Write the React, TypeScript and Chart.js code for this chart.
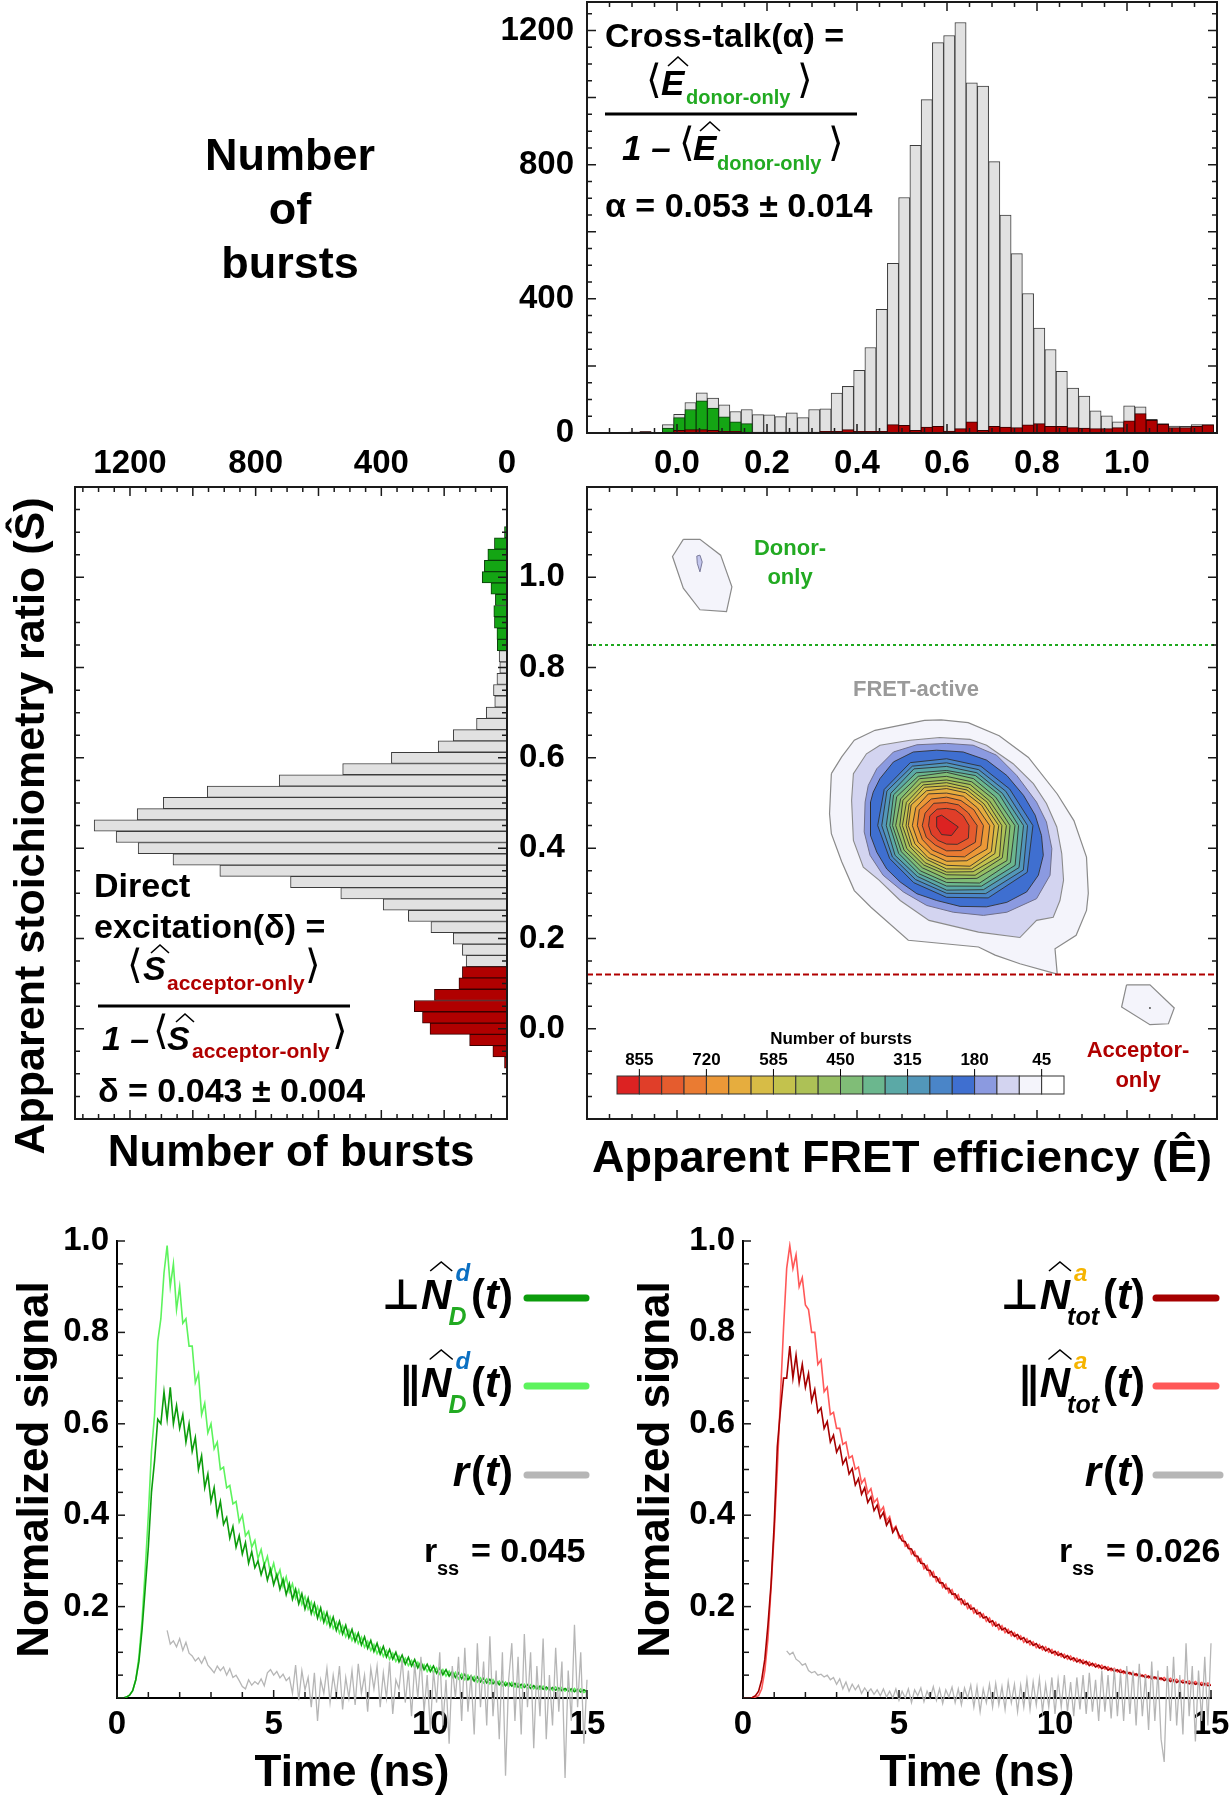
import React, { useEffect, useRef } from "react";
import { Chart, registerables } from "chart.js";

Chart.register(...registerables);

const FONT = '"Liberation Sans", Arial, Helvetica, sans-serif';
const SYM = '"DejaVu Sans", "Liberation Sans", sans-serif';
Chart.defaults.font.family = FONT;
Chart.defaults.color = "#000";

const GREEN_TXT = "#22aa22";
const RED_TXT = "#b00000";

// ---------------- Top: histogram of apparent FRET efficiency (E) ----------------
const E_FIRST_BIN = -0.095;
const E_BIN = 0.025;
const eAllBursts = [3, 4, 0, 25, 56, 91, 120, 104, 84, 64, 70, 55, 54, 49, 60, 46, 70, 72, 119, 139, 187, 255, 369, 506, 702, 858, 994, 1164, 1185, 1224, 1044, 1034, 809, 650, 535, 416, 313, 249, 184, 134, 110, 66, 51, 33, 81, 78, 41, 28, 21, 20, 25, 25];
const eDonorOnly = [0, 0, 0, 15, 46, 70, 96, 74, 48, 33, 28, 0, 0, 0, 0, 0, 0, 0, 0, 0, 0, 0, 0, 0, 0, 0, 0, 0, 0, 0, 0, 0, 0, 0, 0, 0, 0, 0, 0, 0, 0, 0, 0, 0, 0, 0, 0, 0, 0, 0, 0, 0];
const eAcceptorOnly = [3, 4, 0, 3, 8, 10, 10, 8, 5, 5, 3, 3, 3, 3, 3, 3, 3, 5, 5, 10, 5, 5, 5, 25, 23, 8, 18, 20, 6, 13, 33, 8, 20, 18, 16, 24, 28, 20, 20, 16, 15, 13, 13, 16, 36, 58, 38, 26, 16, 16, 20, 24];
const eTickValues = [0, 0.2, 0.4, 0.6, 0.8, 1.0];
const countTickValues = [0, 400, 800, 1200];

// ---------------- Left: histogram of apparent stoichiometry (S) ----------------
const S_FIRST_BIN = -0.075;
const S_BIN = 0.025;
const sAllBursts = [0, 0, 0, 0, 0, 0, 0, 0, 0, 130, 142, 171, 242, 314, 394, 529, 689, 914, 1063, 1174, 1244, 1314, 1177, 1094, 954, 725, 523, 368, 219, 171, 97, 66, 39, 43, 32, 23, 25, 0, 0, 0, 0, 0, 0, 0, 0, 0, 0, 0];
const sAcceptorOnly = [8, 45, 119, 245, 269, 295, 231, 153, 142, 0, 0, 0, 0, 0, 0, 0, 0, 0, 0, 0, 0, 0, 0, 0, 0, 0, 0, 0, 0, 0, 0, 0, 0, 0, 0, 0, 0, 0, 0, 0, 0, 0, 0, 0, 0, 0, 0, 0];
const sDonorOnly = [0, 0, 0, 0, 0, 0, 0, 0, 0, 0, 0, 0, 0, 0, 0, 0, 0, 0, 0, 0, 0, 0, 0, 0, 0, 0, 0, 0, 0, 0, 0, 0, 0, 0, 0, 0, 0, 31, 32, 40, 42, 37, 51, 79, 72, 61, 40, 8];
const sTickValues = [0, 0.2, 0.4, 0.6, 0.8, 1.0];

// ---------------- Center: 2D E-S contour (levels in number of bursts) ----------------
const contourLevels = [45, 90, 135, 180, 225, 270, 315, 360, 405, 450, 495, 540, 585, 630, 675, 720, 765, 810, 855];
const levelColors = ["#f4f4fb", "#d3d4f0", "#8b9ae0", "#3f6fd0", "#4a85c8", "#5297ba", "#5ba9a6", "#6bb78e", "#80bd77", "#96bf62", "#adc156", "#c3c24d", "#d7bc46", "#e6ad3e", "#ec9837", "#ea7b32", "#e55c2e", "#e03e29", "#dc2222"];
const colorbarLabels = [855, 720, 585, 450, 315, 180, 45];
const contour45 = [[0.343, 0.565], [0.366, 0.602], [0.394, 0.639], [0.44, 0.661], [0.495, 0.672], [0.55, 0.683], [0.587, 0.684], [0.647, 0.678], [0.716, 0.649], [0.781, 0.601], [0.845, 0.52], [0.882, 0.461], [0.91, 0.38], [0.914, 0.3], [0.91, 0.262], [0.887, 0.207], [0.84, 0.177], [0.845, 0.121], [0.762, 0.144], [0.707, 0.163], [0.67, 0.181], [0.514, 0.196], [0.431, 0.269], [0.394, 0.306], [0.366, 0.37], [0.343, 0.432], [0.339, 0.476]];
const contour90 = [[0.388, 0.506], [0.392, 0.565], [0.421, 0.609], [0.451, 0.628], [0.518, 0.639], [0.584, 0.645], [0.651, 0.641], [0.688, 0.628], [0.747, 0.587], [0.792, 0.543], [0.821, 0.499], [0.844, 0.447], [0.855, 0.388], [0.859, 0.329], [0.851, 0.284], [0.836, 0.247], [0.799, 0.24], [0.762, 0.202], [0.67, 0.214], [0.56, 0.24], [0.496, 0.284], [0.449, 0.329], [0.414, 0.358], [0.392, 0.417]];
const contour135 = [[0.418, 0.502], [0.416, 0.436], [0.429, 0.384], [0.458, 0.34], [0.503, 0.303], [0.555, 0.273], [0.614, 0.258], [0.681, 0.251], [0.733, 0.258], [0.799, 0.288], [0.829, 0.34], [0.833, 0.399], [0.821, 0.458], [0.799, 0.502], [0.755, 0.561], [0.71, 0.606], [0.658, 0.628], [0.599, 0.632], [0.533, 0.629], [0.481, 0.613], [0.444, 0.576], [0.425, 0.539]];
const contour180 = [[0.43, 0.502], [0.43, 0.428], [0.444, 0.391], [0.466, 0.354], [0.496, 0.325], [0.533, 0.299], [0.577, 0.284], [0.629, 0.271], [0.688, 0.27], [0.733, 0.28], [0.777, 0.303], [0.803, 0.34], [0.814, 0.384], [0.81, 0.428], [0.796, 0.473], [0.77, 0.517], [0.733, 0.561], [0.688, 0.595], [0.636, 0.613], [0.577, 0.617], [0.525, 0.613], [0.481, 0.591], [0.451, 0.554], [0.436, 0.524]];
// inner rings: distance (x0.001) from the peak at 0°,30°,...,330°
const PEAK_E = 0.599;
const PEAK_S = 0.45;
const innerRingRadii = [
  [192, 162, 152, 148, 161, 160, 153, 146, 146, 159, 185, 207],
  [180, 152, 143, 139, 152, 153, 144, 139, 138, 150, 174, 197],
  [171, 143, 135, 131, 145, 143, 134, 132, 130, 143, 164, 186],
  [160, 136, 128, 122, 135, 136, 126, 123, 123, 134, 155, 176],
  [152, 126, 120, 118, 126, 128, 120, 116, 116, 126, 147, 164],
  [141, 119, 112, 109, 120, 118, 113, 109, 108, 118, 135, 155],
  [133, 110, 105, 101, 111, 112, 104, 102, 101, 109, 127, 143],
  [123, 104, 97, 95, 104, 103, 98, 94, 95, 103, 118, 136],
  [116, 96, 91, 88, 98, 96, 90, 89, 87, 96, 111, 124],
  [106, 90, 84, 82, 89, 91, 85, 81, 82, 88, 104, 115],
  [96, 79, 75, 72, 81, 79, 76, 73, 72, 79, 90, 104],
  [82, 70, 64, 63, 68, 70, 65, 62, 63, 68, 80, 88],
  [68, 56, 53, 51, 57, 55, 54, 52, 50, 56, 64, 74],
  [50, 43, 40, 38, 42, 43, 40, 39, 38, 41, 48, 56],
];
const contour855 = [[0.577, 0.469], [0.588, 0.473], [0.625, 0.447], [0.61, 0.428], [0.588, 0.43], [0.577, 0.447]];
const donorIsland45 = [[0.014, 1.084], [0.051, 1.084], [0.097, 1.049], [0.122, 0.979], [0.11, 0.924], [0.051, 0.928], [0.014, 0.976], [-0.01, 1.046]];
const donorIsland90 = [[0.044, 1.047], [0.051, 1.049], [0.056, 1.034], [0.051, 1.012], [0.045, 1.031]];
const acceptorIsland45 = [[0.999, 0.097], [1.051, 0.097], [1.105, 0.046], [1.092, 0.011], [1.051, 0.009], [0.988, 0.048]];
const acceptorPeak = [[1.051, 0.046]];
const donorOnlyCutS = 0.85;
const acceptorOnlyCutS = 0.12;

// ---------------- Bottom: fluorescence decays (0.1 ns channels) ----------------
const DT = 0.1;
const donorParallel = [0, 0, 0, 0.002, 0.006, 0.016, 0.04, 0.09, 0.17, 0.28,
  0.4, 0.54, 0.62, 0.78, 0.83, 0.93, 0.99, 0.9, 0.95, 0.85,
  0.9, 0.82, 0.83, 0.77, 0.77, 0.69, 0.71, 0.62, 0.645, 0.58,
  0.6, 0.545, 0.56, 0.5, 0.505, 0.46, 0.465, 0.425, 0.43, 0.385,
  0.4, 0.355, 0.365, 0.33, 0.345, 0.305, 0.325, 0.29, 0.31, 0.272,
  0.295, 0.262, 0.28, 0.244, 0.265, 0.232, 0.25, 0.218, 0.236, 0.205,
  0.222, 0.194, 0.21, 0.183, 0.2, 0.171, 0.188, 0.162, 0.178, 0.152,
  0.166, 0.142, 0.158, 0.134, 0.149, 0.126, 0.141, 0.119, 0.133, 0.111,
  0.124, 0.104, 0.117, 0.097, 0.11, 0.091, 0.104, 0.085, 0.098, 0.08,
  0.092, 0.075, 0.087, 0.071, 0.082, 0.066, 0.078, 0.062, 0.073, 0.058,
  0.07, 0.055, 0.066, 0.052, 0.062, 0.048, 0.059, 0.045, 0.056, 0.042,
  0.053, 0.04, 0.05, 0.037, 0.047, 0.035, 0.044, 0.033, 0.042, 0.031,
  0.04, 0.029, 0.037, 0.027, 0.035, 0.025, 0.034, 0.024, 0.032, 0.022,
  0.03, 0.021, 0.029, 0.02, 0.027, 0.019, 0.026, 0.018, 0.025, 0.017,
  0.024, 0.016, 0.023, 0.015, 0.022, 0.014, 0.021, 0.013, 0.02, 0.012,
  0.015];
const donorPerpendicular = [0, 0, 0, 0.002, 0.006, 0.016, 0.04, 0.08, 0.15, 0.24,
  0.33, 0.45, 0.52, 0.61, 0.6, 0.67, 0.61, 0.68, 0.6, 0.64,
  0.59, 0.62, 0.56, 0.6, 0.54, 0.57, 0.5, 0.53, 0.46, 0.49,
  0.43, 0.46, 0.4, 0.43, 0.38, 0.395, 0.35, 0.375, 0.33, 0.355,
  0.315, 0.34, 0.295, 0.32, 0.285, 0.3, 0.27, 0.292, 0.258, 0.282,
  0.248, 0.27, 0.238, 0.26, 0.226, 0.25, 0.216, 0.238, 0.206, 0.228,
  0.195, 0.218, 0.185, 0.207, 0.175, 0.197, 0.166, 0.187, 0.157, 0.177,
  0.148, 0.168, 0.14, 0.159, 0.132, 0.15, 0.124, 0.142, 0.116, 0.134,
  0.109, 0.126, 0.102, 0.12, 0.096, 0.113, 0.09, 0.106, 0.085, 0.1,
  0.079, 0.094, 0.074, 0.089, 0.07, 0.084, 0.066, 0.079, 0.062, 0.074,
  0.058, 0.07, 0.054, 0.066, 0.051, 0.062, 0.048, 0.058, 0.045, 0.055,
  0.042, 0.052, 0.04, 0.049, 0.037, 0.046, 0.035, 0.043, 0.033, 0.041,
  0.031, 0.038, 0.029, 0.036, 0.027, 0.034, 0.026, 0.032, 0.024, 0.03,
  0.023, 0.029, 0.021, 0.027, 0.02, 0.026, 0.019, 0.024, 0.018, 0.023,
  0.017, 0.022, 0.016, 0.021, 0.015, 0.02, 0.014, 0.019, 0.013, 0.018,
  0.014];
const DONOR_R_START = 1.6;
const donorAnisotropy = [0.148, 0.118, 0.125, 0.112, 0.13, 0.104, 0.122, 0.098, 0.092, 0.081,
  0.088, 0.076, 0.09, 0.072, 0.064, 0.055, 0.07, 0.06, 0.068, 0.05,
  0.064, 0.045, 0.05, 0.038, 0.025, 0.02, 0.04, 0.028, 0.036, 0.03,
  0.042, 0.027, 0.055, 0.062, 0.05, 0.058, 0.044, 0.052, 0.038, 0.045,
  0.01, 0.072, -0.005, 0.06, 0.018, 0.045, -0.02, 0.055, -0.05, 0.04,
  0.01, 0.065, -0.01, 0.05, 0.005, 0.07, -0.025, 0.045, 0.0, 0.06,
  -0.015, 0.075, 0.01, 0.05, -0.03, 0.065, 0.02, 0.07, -0.02, 0.055,
  0.0, 0.08, -0.035, 0.04, 0.02, 0.085, -0.01, 0.06, -0.04, 0.075,
  0.0, 0.09, -0.03, 0.05, -0.07, 0.06, -0.01, 0.1, -0.06, 0.04,
  -0.1, 0.07, 0.0, 0.09, -0.05, 0.11, -0.03, 0.05, -0.08, 0.12,
  -0.02, 0.08, -0.06, 0.135, -0.04, 0.06, -0.09, 0.1, -0.17, 0.04,
  0.12, -0.05, 0.09, -0.08, 0.14, -0.02, 0.1, -0.11, 0.07, -0.04,
  0.13, -0.09, 0.05, -0.06, 0.11, -0.03, 0.08, -0.175, 0.06, -0.05,
  0.16, -0.02, 0.1, -0.1, 0.04];
const acceptorParallel = [0, 0, 0, 0, 0.002, 0.005, 0.02, 0.06, 0.13, 0.24,
  0.36, 0.5, 0.66, 0.81, 0.94, 0.99, 0.94, 0.97, 0.9, 0.92,
  0.86, 0.85, 0.8, 0.8, 0.73, 0.74, 0.67, 0.68, 0.62, 0.625,
  0.59, 0.59, 0.555, 0.56, 0.525, 0.53, 0.5, 0.505, 0.47, 0.48,
  0.448, 0.458, 0.428, 0.436, 0.408, 0.418, 0.388, 0.397, 0.368, 0.376,
  0.35, 0.356, 0.332, 0.336, 0.315, 0.321, 0.299, 0.305, 0.283, 0.29,
  0.268, 0.276, 0.255, 0.262, 0.242, 0.249, 0.23, 0.237, 0.218, 0.226,
  0.206, 0.214, 0.196, 0.203, 0.186, 0.193, 0.177, 0.184, 0.168, 0.175,
  0.158, 0.166, 0.15, 0.158, 0.143, 0.15, 0.136, 0.143, 0.129, 0.136,
  0.122, 0.13, 0.116, 0.123, 0.11, 0.117, 0.105, 0.112, 0.1, 0.106,
  0.094, 0.101, 0.09, 0.096, 0.085, 0.092, 0.081, 0.087, 0.077, 0.083,
  0.073, 0.079, 0.07, 0.075, 0.066, 0.072, 0.063, 0.068, 0.06, 0.065,
  0.057, 0.062, 0.054, 0.059, 0.052, 0.056, 0.049, 0.054, 0.047, 0.051,
  0.044, 0.049, 0.042, 0.047, 0.04, 0.045, 0.038, 0.043, 0.036, 0.041,
  0.034, 0.039, 0.033, 0.037, 0.031, 0.036, 0.03, 0.034, 0.028, 0.033,
  0.028];
const acceptorPerpendicular = [0, 0, 0, 0.001, 0.005, 0.015, 0.04, 0.085, 0.16, 0.25,
  0.38, 0.55, 0.63, 0.7, 0.7, 0.77, 0.7, 0.75, 0.69, 0.73,
  0.68, 0.71, 0.65, 0.675, 0.625, 0.635, 0.59, 0.605, 0.56, 0.575,
  0.538, 0.552, 0.512, 0.525, 0.49, 0.502, 0.466, 0.48, 0.446, 0.46,
  0.428, 0.44, 0.41, 0.422, 0.394, 0.406, 0.378, 0.39, 0.362, 0.373,
  0.357, 0.344, 0.342, 0.327, 0.326, 0.311, 0.31, 0.295, 0.294, 0.28,
  0.279, 0.265, 0.265, 0.252, 0.252, 0.239, 0.24, 0.227, 0.228, 0.215,
  0.217, 0.204, 0.207, 0.194, 0.197, 0.184, 0.187, 0.175, 0.178, 0.166,
  0.169, 0.157, 0.161, 0.149, 0.153, 0.142, 0.146, 0.135, 0.139, 0.128,
  0.132, 0.121, 0.125, 0.115, 0.119, 0.109, 0.113, 0.103, 0.108, 0.098,
  0.102, 0.093, 0.097, 0.088, 0.093, 0.084, 0.088, 0.079, 0.084, 0.075,
  0.08, 0.071, 0.076, 0.068, 0.072, 0.064, 0.069, 0.061, 0.065, 0.058,
  0.062, 0.055, 0.059, 0.052, 0.056, 0.049, 0.053, 0.047, 0.05, 0.044,
  0.048, 0.042, 0.046, 0.04, 0.044, 0.038, 0.042, 0.036, 0.04, 0.034,
  0.038, 0.033, 0.036, 0.031, 0.035, 0.03, 0.033, 0.028, 0.032, 0.027,
  0.028];
const ACCEPTOR_R_START = 1.4;
const acceptorAnisotropy = [0.103, 0.095, 0.1, 0.085, 0.08, 0.072, 0.075, 0.06, 0.055, 0.058,
  0.05, 0.052, 0.046, 0.05, 0.04, 0.045, 0.03, 0.042, 0.02, 0.035,
  0.015, 0.03, 0.018, 0.028, 0.01, 0.022, 0.012, 0.02, 0.008, 0.018,
  0.005, 0.02, 0.002, 0.015, 0.0, 0.02, -0.005, 0.015, 0.0, 0.02,
  -0.01, 0.018, 0.005, 0.022, -0.008, 0.015, 0.0, 0.025, -0.005, 0.02,
  -0.012, 0.018, 0.002, 0.024, -0.01, 0.02, -0.015, 0.022, 0.0, 0.028,
  -0.02, 0.025, -0.03, 0.02, -0.01, 0.03, -0.02, 0.032, -0.015, 0.025,
  -0.025, 0.035, -0.01, 0.03, -0.03, 0.028, -0.02, 0.04, -0.025, 0.035,
  -0.015, 0.042, -0.03, 0.03, -0.02, 0.045, -0.035, 0.04, -0.02, 0.05,
  -0.03, 0.035, -0.04, 0.045, -0.025, 0.05, -0.035, 0.055, -0.03, 0.04,
  -0.05, 0.06, -0.03, 0.05, -0.045, 0.065, -0.04, 0.055, -0.05, 0.07,
  -0.035, 0.06, -0.06, 0.075, -0.04, 0.05, -0.07, 0.08, -0.05, 0.06,
  -0.09, -0.14, 0.07, -0.05, 0.09, -0.06, 0.05, -0.08, 0.12, -0.04,
  0.07, -0.095, 0.06, -0.05, 0.09, -0.06, 0.12];
const timeTickValues = [0, 5, 10, 15];
const signalTickValues = [0.2, 0.4, 0.6, 0.8, 1.0];

// ---------------- helpers ----------------
type Pt = { x: number; y: number };
const rnd = (v: number) => Math.round(v * 10000) / 10000;
const binCenters = (first: number, w: number, n: number) => Array.from({ length: n }, (_, i) => rnd(first + i * w));
const E_CENTERS = binCenters(E_FIRST_BIN, E_BIN, eAllBursts.length);
const S_CENTERS = binCenters(S_FIRST_BIN, S_BIN, sAllBursts.length);
const vBars = (vals: number[]) => vals.map((v, i) => ({ x: E_CENTERS[i], y: v })).filter((p) => p.y > 0);
const hBars = (vals: number[]) => vals.map((v, i) => ({ x: v, y: S_CENTERS[i] })).filter((p) => p.x > 0);
const series = (vals: number[], t0: number) => vals.map((v, i) => ({ x: Math.round((t0 + i * DT) * 100) / 100, y: v }));
const closed = (poly: number[][]): Pt[] => {
  const pts = poly.map(([x, y]) => ({ x, y }));
  pts.push({ ...pts[0] });
  return pts;
};
const ringPts = (radii: number[]): Pt[] => {
  const pts = radii.map((r, i) => {
    const a = (i * 2 * Math.PI) / radii.length;
    return { x: PEAK_E + (r / 1000) * Math.cos(a), y: PEAK_S + (r / 1000) * Math.sin(a) };
  });
  pts.push({ ...pts[0] });
  return pts;
};
const fix1 = (v: any) => {
  const n = Number(v);
  return (Math.abs(n) < 1e-9 ? 0 : n).toFixed(1);
};
const noPad = (s: any) => {
  s.paddingLeft = 0;
  s.paddingRight = 0;
  s.paddingTop = 0;
  s.paddingBottom = 0;
};
const tickFont = { family: FONT, size: 33, weight: "bold" as const };
const setTicks = (vals: number[]) => (s: any) => {
  s.ticks = vals.map((v) => ({ value: v }));
};

function put(ctx: CanvasRenderingContext2D, s: string, x: number, y: number, font: string, color = "#000", align: CanvasTextAlign = "left", base: CanvasTextBaseline = "alphabetic") {
  ctx.font = font;
  ctx.fillStyle = color;
  ctx.textAlign = align;
  ctx.textBaseline = base;
  ctx.fillText(s, x, y);
}
function hat(ctx: CanvasRenderingContext2D, cx: number, top: number, w: number, h: number) {
  ctx.beginPath();
  ctx.moveTo(cx - w / 2, top + h);
  ctx.lineTo(cx, top);
  ctx.lineTo(cx + w / 2, top + h);
  ctx.strokeStyle = "#000";
  ctx.lineWidth = 1.6;
  ctx.stroke();
}

type TickSet = { axis: string; sides: string[]; minor: number; major: number; minorLen: number; majorLen: number };
function decor(id: string, frame: boolean, ticks: TickSet[], draw?: (ctx: CanvasRenderingContext2D, chart: any) => void) {
  return {
    id,
    afterDatasetsDraw(chart: any) {
      const ctx: CanvasRenderingContext2D = chart.ctx;
      const a = chart.chartArea;
      ctx.save();
      ctx.strokeStyle = "#1a1a1a";
      ctx.lineWidth = 1.5;
      for (const t of ticks) {
        const sc = chart.scales[t.axis];
        const lo = Math.min(sc.min, sc.max);
        const hi = Math.max(sc.min, sc.max);
        const i0 = Math.ceil(lo / t.minor - 1e-6);
        const i1 = Math.floor(hi / t.minor + 1e-6);
        for (let i = i0; i <= i1; i++) {
          const v = i * t.minor;
          const q = v / t.major;
          const len = Math.abs(q - Math.round(q)) < 1e-6 ? t.majorLen : t.minorLen;
          const p = sc.getPixelForValue(v);
          ctx.beginPath();
          for (const s of t.sides) {
            if (s === "bottom") { ctx.moveTo(p, a.bottom); ctx.lineTo(p, a.bottom - len); }
            if (s === "top") { ctx.moveTo(p, a.top); ctx.lineTo(p, a.top + len); }
            if (s === "left") { ctx.moveTo(a.left, p); ctx.lineTo(a.left + len, p); }
            if (s === "right") { ctx.moveTo(a.right, p); ctx.lineTo(a.right - len, p); }
          }
          ctx.stroke();
        }
      }
      if (frame) {
        ctx.lineWidth = 2;
        ctx.strokeStyle = "#1a1a1a";
        ctx.strokeRect(a.left, a.top, a.right - a.left, a.bottom - a.top);
      }
      if (draw) draw(ctx, chart);
      ctx.restore();
    },
  };
}

const hiddenGrid = { display: false, drawTicks: false };
const noBorder = { display: false };
const baseOpts = {
  responsive: false,
  animation: false as const,
  events: [] as any[],
  plugins: { legend: { display: false }, tooltip: { enabled: false } },
};

// ---------------- chart A: E histogram ----------------
function buildEHist(): any {
  const plugin = decor("eHistDecor", true, [
    { axis: "x", sides: ["top", "bottom"], minor: 0.05, major: 0.2, minorLen: 5, majorLen: 9 },
    { axis: "y", sides: ["left", "right"], minor: 50, major: 200, minorLen: 5, majorLen: 9 },
  ], (ctx) => {
    const big = `bold 45px ${FONT}`;
    put(ctx, "Number", 290, 158, big, "#000", "center", "middle");
    put(ctx, "of", 290, 212, big, "#000", "center", "middle");
    put(ctx, "bursts", 290, 266, big, "#000", "center", "middle");
    const B = `bold 34px ${FONT}`;
    const IT = `italic bold 35px ${FONT}`;
    const BR = `40px ${SYM}`;
    const SUB = `bold 20px ${FONT}`;
    put(ctx, "Cross-talk(α) =", 605, 47, B);
    put(ctx, "⟨", 646, 93, BR);
    put(ctx, "E", 661, 95, IT);
    hat(ctx, 678, 57, 20, 9);
    put(ctx, "donor-only", 686, 104, SUB, GREEN_TXT);
    put(ctx, "⟩", 797, 93, BR);
    ctx.fillStyle = "#000";
    ctx.fillRect(605, 112.5, 252, 3);
    put(ctx, "1 –", 622, 160, IT);
    put(ctx, "⟨", 679, 156, BR);
    put(ctx, "E", 693, 160, IT);
    hat(ctx, 710, 122, 20, 9);
    put(ctx, "donor-only", 717, 170, SUB, GREEN_TXT);
    put(ctx, "⟩", 828, 156, BR);
    put(ctx, "α = 0.053 ± 0.014", 605, 217, B);
  });
  return {
    type: "bar",
    data: {
      datasets: [
        { label: "acceptor-only", data: vBars(eAcceptorOnly), backgroundColor: "#b00000", borderColor: "#3a0000", borderWidth: 1, grouped: false, order: 0 },
        { label: "donor-only", data: vBars(eDonorOnly), backgroundColor: "#14a514", borderColor: "#0b3d0b", borderWidth: 1, grouped: false, order: 1 },
        { label: "all bursts", data: vBars(eAllBursts), backgroundColor: "#e1e1e1", borderColor: "#3c3c3c", borderWidth: 1, grouped: false, order: 2 },
      ],
    },
    options: {
      ...baseOpts,
      layout: { padding: { left: 0, right: 15, top: 2, bottom: 0 }, autoPadding: false },
      datasets: { bar: { barPercentage: 1, categoryPercentage: 1 } },
      scales: {
        x: {
          type: "linear", min: -0.2, max: 1.2, offset: false, grid: hiddenGrid, border: noBorder,
          afterBuildTicks: setTicks(eTickValues),
          ticks: { autoSkip: false, maxRotation: 0, minRotation: 0, padding: 11, color: "#000", font: tickFont, callback: fix1 },
          afterFit: (s: any) => { s.height = 57; noPad(s); },
        },
        y: {
          type: "linear", min: 0, max: 1285, grid: hiddenGrid, border: noBorder,
          afterBuildTicks: setTicks(countTickValues),
          ticks: { autoSkip: false, padding: 13, color: "#000", font: tickFont, callback: (v: any) => String(v) },
          afterFit: (s: any) => { s.width = 587; noPad(s); },
        },
      },
    },
    plugins: [plugin],
  };
}

// ---------------- chart B: S histogram ----------------
function buildSHist(): any {
  const plugin = decor("sHistDecor", true, [
    { axis: "x", sides: ["top", "bottom"], minor: 50, major: 200, minorLen: 5, majorLen: 9 },
    { axis: "y", sides: ["left", "right"], minor: 0.05, major: 0.2, minorLen: 5, majorLen: 9 },
  ], (ctx) => {
    const B = `bold 34px ${FONT}`;
    const IT = `italic bold 34px ${FONT}`;
    const BR = `40px ${SYM}`;
    const SUB = `bold 21px ${FONT}`;
    put(ctx, "Number of bursts", 291, 724, `bold 44px ${FONT}`, "#000", "center", "middle");
    ctx.save();
    ctx.translate(32, 396);
    ctx.rotate(-Math.PI / 2);
    put(ctx, "Apparent stoichiometry ratio (Ŝ)", 0, 0, `bold 43px ${FONT}`, "#000", "center", "middle");
    ctx.restore();
    put(ctx, "Direct", 94, 467, B);
    put(ctx, "excitation(δ) =", 94, 508, B);
    put(ctx, "⟨", 127, 548, BR);
    put(ctx, "S", 143, 550, IT);
    hat(ctx, 160, 515, 18, 8);
    put(ctx, "acceptor-only", 167, 560, SUB, RED_TXT);
    put(ctx, "⟩", 305, 548, BR);
    ctx.fillStyle = "#000";
    ctx.fillRect(98, 574.5, 252, 3);
    put(ctx, "1 –", 102, 620, IT);
    put(ctx, "⟨", 153, 614, BR);
    put(ctx, "S", 167, 620, IT);
    hat(ctx, 185, 584, 18, 8);
    put(ctx, "acceptor-only", 192, 628, SUB, RED_TXT);
    put(ctx, "⟩", 332, 614, BR);
    put(ctx, "δ = 0.043 ± 0.004", 98, 672, B);
  });
  return {
    type: "bar",
    data: {
      datasets: [
        { label: "acceptor-only", data: hBars(sAcceptorOnly), backgroundColor: "#b00000", borderColor: "#3a0000", borderWidth: 1, grouped: false },
        { label: "donor-only", data: hBars(sDonorOnly), backgroundColor: "#14a514", borderColor: "#0b3d0b", borderWidth: 1, grouped: false },
        { label: "all bursts", data: hBars(sAllBursts), backgroundColor: "#e1e1e1", borderColor: "#3c3c3c", borderWidth: 1, grouped: false },
      ],
    },
    options: {
      ...baseOpts,
      indexAxis: "y",
      layout: { padding: { left: 75, right: 0, top: 0, bottom: 71 }, autoPadding: false },
      datasets: { bar: { barPercentage: 1, categoryPercentage: 1 } },
      scales: {
        x: {
          type: "linear", position: "top", reverse: true, min: 0, max: 1375, grid: hiddenGrid, border: noBorder,
          afterBuildTicks: setTicks(countTickValues),
          ticks: { autoSkip: false, maxRotation: 0, minRotation: 0, padding: 3, color: "#000", font: tickFont, callback: (v: any) => String(v) },
          afterFit: (s: any) => { s.height = 57; noPad(s); },
        },
        y: {
          type: "linear", position: "right", min: -0.2, max: 1.2, offset: false, grid: hiddenGrid, border: noBorder,
          afterBuildTicks: setTicks(sTickValues),
          ticks: { autoSkip: false, padding: 12, color: "#000", font: tickFont, callback: fix1 },
          afterFit: (s: any) => { s.width = 73; noPad(s); },
        },
      },
    },
    plugins: [plugin],
  };
}

// ---------------- chart C: 2D contour ----------------
function polyDs(label: string, pts: Pt[], fill: string, line: string, lw: number) {
  return { label, data: pts, fill: "shape", backgroundColor: fill, borderColor: line, borderWidth: lw, pointRadius: 0, tension: 0 };
}
function buildContour(): any {
  const inner = "rgba(45,45,45,0.85)";
  const outer = "#8a8a8a";
  const rings: any[] = [];
  rings.push(polyDs("855", closed(contour855), levelColors[18], inner, 1));
  for (let k = innerRingRadii.length - 1; k >= 0; k--) {
    rings.push(polyDs(String(contourLevels[4 + k]), ringPts(innerRingRadii[k]), levelColors[4 + k], inner, 1));
  }
  rings.push(polyDs("180", closed(contour180), levelColors[3], inner, 1));
  rings.push(polyDs("135", closed(contour135), levelColors[2], "#6f6f8a", 1));
  rings.push(polyDs("90", closed(contour90), levelColors[1], outer, 1.1));
  rings.push(polyDs("45", closed(contour45), levelColors[0], outer, 1.2));
  const datasets = [
    { label: "donor-only cut", data: [{ x: -0.2, y: donorOnlyCutS }, { x: 1.2, y: donorOnlyCutS }], borderColor: "#1fa81f", borderWidth: 2, borderDash: [3, 3], pointRadius: 0, fill: false },
    { label: "acceptor-only cut", data: [{ x: -0.2, y: acceptorOnlyCutS }, { x: 1.2, y: acceptorOnlyCutS }], borderColor: "#b00000", borderWidth: 2, borderDash: [6, 3], pointRadius: 0, fill: false },
    ...rings,
    polyDs("donor 90", closed(donorIsland90), "#c3c6ee", "#7a7a9a", 1),
    polyDs("donor 45", closed(donorIsland45), levelColors[0], outer, 1.2),
    { label: "acceptor peak", data: acceptorPeak.map(([x, y]) => ({ x, y })), showLine: false, pointRadius: 1, pointBackgroundColor: "#555", pointBorderWidth: 0 },
    polyDs("acceptor 45", closed(acceptorIsland45), levelColors[0], outer, 1.2),
  ];
  const plugin = decor("contourDecor", true, [
    { axis: "x", sides: ["top", "bottom"], minor: 0.05, major: 0.2, minorLen: 5, majorLen: 9 },
    { axis: "y", sides: ["left", "right"], minor: 0.05, major: 0.2, minorLen: 5, majorLen: 9 },
  ], (ctx) => {
    const L = `bold 22px ${FONT}`;
    put(ctx, "Donor-", 210, 119, L, GREEN_TXT, "center", "middle");
    put(ctx, "only", 210, 148, L, GREEN_TXT, "center", "middle");
    put(ctx, "FRET-active", 336, 260, L, "#9a9a9a", "center", "middle");
    put(ctx, "Acceptor-", 558, 621, L, RED_TXT, "center", "middle");
    put(ctx, "only", 558, 651, L, RED_TXT, "center", "middle");
    // colour bar (legend)
    const x0 = 37, w = 447, y0 = 646, h = 18;
    const n = levelColors.length + 1;
    const bw = w / n;
    const boxColors = [...levelColors].reverse().concat(["#ffffff"]);
    boxColors.forEach((c, i) => {
      ctx.fillStyle = c;
      ctx.fillRect(x0 + i * bw, y0, bw, h);
      ctx.strokeStyle = "#333";
      ctx.lineWidth = 1;
      ctx.strokeRect(x0 + i * bw, y0, bw, h);
    });
    put(ctx, "Number of bursts", 261, 609, `bold 17px ${FONT}`, "#000", "center", "middle");
    colorbarLabels.forEach((lab, j) => {
      const bx = x0 + (1 + 3 * j) * bw;
      ctx.beginPath();
      ctx.moveTo(bx, y0 - 7);
      ctx.lineTo(bx, y0);
      ctx.strokeStyle = "#000";
      ctx.stroke();
      put(ctx, String(lab), bx, 630, `bold 17px ${FONT}`, "#000", "center", "middle");
    });
  });
  return {
    type: "line",
    data: { datasets },
    options: {
      ...baseOpts,
      layout: { padding: { left: 7, right: 15, top: 57, bottom: 0 }, autoPadding: false },
      elements: { point: { radius: 0 }, line: { tension: 0 } },
      scales: {
        x: {
          type: "linear", min: -0.2, max: 1.2, grid: hiddenGrid, border: noBorder,
          ticks: { display: false },
          title: { display: true, text: "Apparent FRET efficiency (Ê)", color: "#000", font: { family: FONT, size: 45, weight: "bold" }, padding: { top: 0, bottom: 13 } },
          afterFit: (s: any) => { s.height = 81; noPad(s); },
        },
        y: { type: "linear", min: -0.2, max: 1.2, display: false },
      },
    },
    plugins: [plugin],
  };
}

// ---------------- charts D/E: decays ----------------
function legendN(ctx: CanvasRenderingContext2D, right: number, base: number, prefix: string, sup: string, supColor: string, sub: string, subColor: string) {
  const fN = `italic bold 42px ${FONT}`;
  const fP = `bold 42px ${FONT}`;
  const fPre = `bold 42px ${SYM}`;
  const fSup = `italic bold 24px ${FONT}`;
  const fSub = `italic bold 25px ${FONT}`;
  const mw = (s: string, f: string) => { ctx.font = f; return ctx.measureText(s).width; };
  let x = right - mw(")", fP);
  put(ctx, ")", x, base, fP);
  x -= mw("t", fN);
  put(ctx, "t", x, base, fN);
  x -= mw("(", fP);
  put(ctx, "(", x, base, fP);
  const wb = Math.max(mw(sup, fSup) + 4, mw(sub, fSub)) + 1;
  x -= wb;
  put(ctx, sup, x + 4, base - 28, fSup, supColor);
  put(ctx, sub, x - 3, base + 16, fSub, subColor);
  const wN = mw("N", fN);
  x -= wN;
  put(ctx, "N", x, base, fN);
  hat(ctx, x + wN / 2 + 5, base - 47, 22, 9);
  x -= mw(prefix, fPre) + 1;
  put(ctx, prefix, x, base, fPre);
}
function legendR(ctx: CanvasRenderingContext2D, right: number, base: number) {
  const fN = `italic bold 42px ${FONT}`;
  const fP = `bold 42px ${FONT}`;
  const mw = (s: string, f: string) => { ctx.font = f; return ctx.measureText(s).width; };
  let x = right - mw(")", fP);
  put(ctx, ")", x, base, fP);
  x -= mw("t", fN);
  put(ctx, "t", x, base, fN);
  x -= mw("(", fP);
  put(ctx, "(", x, base, fP);
  x -= mw("r", fN) + 2;
  put(ctx, "r", x, base, fN);
}
function legendLine(ctx: CanvasRenderingContext2D, x1: number, x2: number, y: number, color: string) {
  ctx.beginPath();
  ctx.moveTo(x1, y);
  ctx.lineTo(x2, y);
  ctx.strokeStyle = color;
  ctx.lineWidth = 7;
  ctx.lineCap = "round";
  ctx.stroke();
}

function buildDecay(kind: "donor" | "acceptor"): any {
  const isD = kind === "donor";
  const perp = isD ? donorPerpendicular : acceptorPerpendicular;
  const par = isD ? donorParallel : acceptorParallel;
  const r = isD ? donorAnisotropy : acceptorAnisotropy;
  const r0 = isD ? DONOR_R_START : ACCEPTOR_R_START;
  const cPerp = isD ? "#0c9c0c" : "#a60000";
  const cPar = isD ? "#5df35d" : "#ff5858";
  const cR = "#b6b6b6";
  const plugin = decor(isD ? "donorDecor" : "acceptorDecor", false, [
    { axis: "x", sides: ["bottom"], minor: 1, major: 5, minorLen: 6, majorLen: 8 },
    { axis: "y", sides: ["left"], minor: 0.05, major: 0.2, minorLen: 6, majorLen: 8 },
  ], (ctx) => {
    const right = isD ? 513 : 529;
    const lx1 = isD ? 527 : 540;
    const lx2 = isD ? 586 : 600;
    legendN(ctx, right, 109, "⊥", isD ? "d" : "a", isD ? "#0a6fc2" : "#f5b400", isD ? "D" : "tot", isD ? GREEN_TXT : "#000");
    legendLine(ctx, lx1, lx2, 98, cPerp);
    legendN(ctx, right, 197, "∥", isD ? "d" : "a", isD ? "#0a6fc2" : "#f5b400", isD ? "D" : "tot", isD ? GREEN_TXT : "#000");
    legendLine(ctx, lx1, lx2, 186, cPar);
    legendR(ctx, right, 286);
    legendLine(ctx, lx1, lx2 + (isD ? 0 : 4), 275, cR);
    const rx = isD ? 424 : 443;
    put(ctx, "r", rx, 362, `bold 34px ${FONT}`);
    put(ctx, "ss", rx + 13, 375, `bold 20px ${FONT}`);
    put(ctx, isD ? "= 0.045" : "= 0.026", rx + 47, 362, `bold 34px ${FONT}`);
  });
  return {
    type: "line",
    data: {
      datasets: [
        { label: "r(t)", data: series(r, r0), borderColor: cR, borderWidth: 1.3, pointRadius: 0, clip: false },
        { label: "perpendicular", data: series(perp, 0), borderColor: cPerp, borderWidth: 1.6, pointRadius: 0 },
        { label: "parallel", data: series(par, 0), borderColor: cPar, borderWidth: 1.6, pointRadius: 0 },
      ],
    },
    options: {
      ...baseOpts,
      layout: { padding: { left: 0, right: isD ? 29 : 21, top: 41, bottom: 0 }, autoPadding: false },
      scales: {
        x: {
          type: "linear", min: 0, max: 15, grid: hiddenGrid, border: { display: true, color: "#000", width: 2 },
          afterBuildTicks: setTicks(timeTickValues),
          ticks: { autoSkip: false, maxRotation: 0, minRotation: 0, padding: 7, color: "#000", font: tickFont, callback: (v: any) => String(v) },
          title: { display: true, text: "Time (ns)", color: "#000", font: { family: FONT, size: 44, weight: "bold" }, padding: { top: 0, bottom: 0 } },
          afterFit: (s: any) => { s.height = 102; noPad(s); },
        },
        y: {
          type: "linear", min: 0, max: 1, grid: hiddenGrid, border: { display: true, color: "#000", width: 2 },
          afterBuildTicks: setTicks(signalTickValues),
          ticks: { autoSkip: false, padding: 8, color: "#000", font: tickFont, callback: fix1 },
          title: { display: true, text: "Normalized signal", color: "#000", font: { family: FONT, size: 44, weight: "bold" }, padding: { top: isD ? 9 : 14.6, bottom: 0 } },
          afterFit: (s: any) => { s.width = isD ? 117 : 127; noPad(s); },
        },
      },
    },
    plugins: [plugin],
  };
}
const buildDonorDecay = () => buildDecay("donor");
const buildAcceptorDecay = () => buildDecay("acceptor");

function ChartBox({ left, top, width, height, build }: { left: number; top: number; width: number; height: number; build: () => any }) {
  const ref = useRef<HTMLCanvasElement | null>(null);
  useEffect(() => {
    if (!ref.current) return;
    const chart = new Chart(ref.current, build());
    return () => chart.destroy();
  }, [build]);
  return (
    <div style={{ position: "absolute", left, top, width, height }}>
      <canvas ref={ref} width={width} height={height} style={{ display: "block", width, height }} />
    </div>
  );
}

export default function App() {
  return (
    <div style={{ position: "absolute", left: 0, top: 0, width: 1232, height: 1800, background: "#fff", overflow: "hidden" }}>
      <ChartBox left={0} top={0} width={1232} height={490} build={buildEHist} />
      <ChartBox left={0} top={430} width={580} height={760} build={buildSHist} />
      <ChartBox left={580} top={430} width={652} height={770} build={buildContour} />
      <ChartBox left={0} top={1200} width={616} height={600} build={buildDonorDecay} />
      <ChartBox left={616} top={1200} width={616} height={600} build={buildAcceptorDecay} />
    </div>
  );
}
